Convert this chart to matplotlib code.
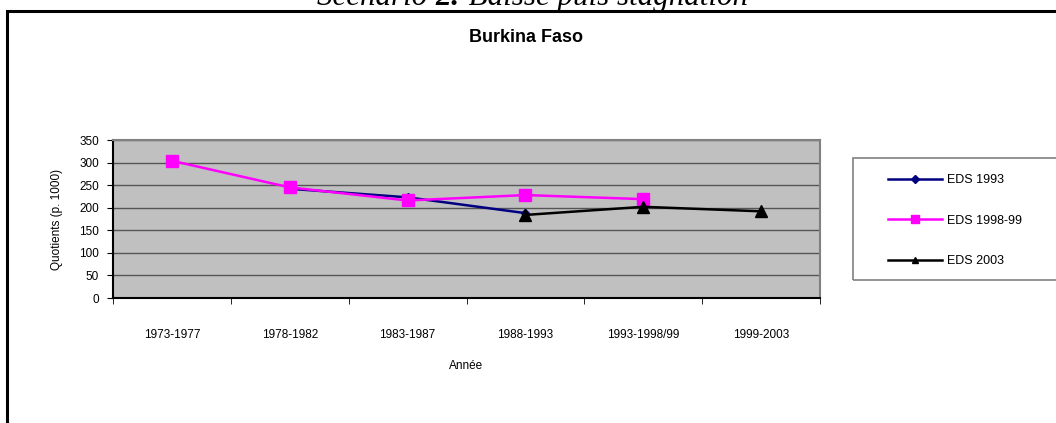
import matplotlib
matplotlib.use("Agg")
import matplotlib.pyplot as plt
from matplotlib.patches import Rectangle
from matplotlib.lines import Line2D
import numpy as np

plt.rcParams['font.family'] = ['Liberation Sans', 'DejaVu Sans']

periods = ["1973-1977", "1978-1982", "1983-1987", "1988-1993",
           "1993-1998/99", "1999-2003"]

# quotients (p. 1000), None = no value for that period
eds_1993 = [None, 242, 223, 188, None, None]
eds_1998 = [304, 245, 216, 228, 219, None]
eds_2003 = [None, None, None, 184, 202, 192]

series_names = ["EDS 1993", "EDS 1998-99", "EDS 2003"]
series_colors = ["#000080", "#FF00FF", "#000000"]
series_markers = ["D", "s", "^"]
series_msize = [4, 9, 8]

W, H = 1056, 423
fig = plt.figure(figsize=(W / 100, H / 100), dpi=100)


def fx(px):
    return px / W


def fy(py):
    return 1 - py / H


# outer frame (cut by the image edges)
fig.patches.append(Rectangle((fx(7), fy(440)), fx(1070) - fx(7), fy(11) - fy(440),
                             transform=fig.transFigure, fill=False,
                             edgecolor="black", linewidth=2.2, clip_on=False))

ax = fig.add_axes([fx(113), fy(298), fx(820) - fx(113), fy(140) - fy(298)])
ax.set_facecolor("#C0C0C0")

x = np.arange(len(periods))
all_series = [eds_1993, eds_1998, eds_2003]
for vals, name, col, mk, ms in zip(all_series, series_names, series_colors,
                                   series_markers, series_msize):
    xs = [xi for xi, v in zip(x, vals) if v is not None]
    ys = [v for v in vals if v is not None]
    ax.plot(xs, ys, color=col, marker=mk, markersize=ms, linewidth=1.8,
            label=name, zorder=3)

ax.set_xlim(-0.5, len(periods) - 0.5)
ax.set_ylim(0, 350)
ax.set_yticks(range(0, 351, 50))
ax.set_xticks(x)
ax.set_xticklabels(periods, fontsize=8.5)
ax.set_xticks(np.arange(-0.5, len(periods), 1), minor=True)
ax.tick_params(axis="x", which="major", length=0, pad=22)
ax.tick_params(axis="x", which="minor", length=4, direction="out", color="black")
ax.tick_params(axis="y", length=4, direction="out", labelsize=8.5, pad=6)
ax.yaxis.grid(True, color="#555555", linewidth=1)
ax.set_axisbelow(True)
for s in ["top", "right"]:
    ax.spines[s].set_color("#808080")
    ax.spines[s].set_linewidth(1.5)
for s in ["left", "bottom"]:
    ax.spines[s].set_color("black")
    ax.spines[s].set_linewidth(1.5)

ax.set_ylabel("Quotients (p. 1000)", fontsize=8.5, labelpad=12)
ax.set_xlabel("Année", fontsize=8.5, labelpad=14)

fig.text(fx(526), fy(37), "Burkina Faso", ha="center", va="center",
         fontsize=13, fontweight="bold")

# legend box
fig.patches.append(Rectangle((fx(853), fy(280)), fx(1070) - fx(853), fy(158) - fy(280),
                             transform=fig.transFigure, fill=False,
                             edgecolor="#808080", linewidth=1.2, clip_on=False))
handles = [Line2D([], [], color=c, marker=m, markersize=s * 0.6, linewidth=1.8)
           for c, m, s in zip(series_colors, series_markers, [7, 9, 8])]
fig.legend(handles, series_names, loc="upper left", frameon=False,
           bbox_to_anchor=(fx(883), fy(169)), fontsize=9, handlelength=4.3,
           handletextpad=0.4, labelspacing=2.3, borderaxespad=0)

# section title, mostly cut by the top edge
fig.canvas.draw()
r = fig.canvas.get_renderer()
parts = [("Scenario ", "normal"), ("2:", "bold"), (" Baisse puis stagnation", "normal")]
xpos = fx(317)
for txt, wt in parts:
    t = fig.text(xpos, fy(5), txt, family="Liberation Serif", style="italic",
                 fontweight=wt, fontsize=22.3, va="baseline", ha="left")
    bb = t.get_window_extent(renderer=r)
    xpos = bb.x1 / W

fig.savefig("out.png", dpi=100)
